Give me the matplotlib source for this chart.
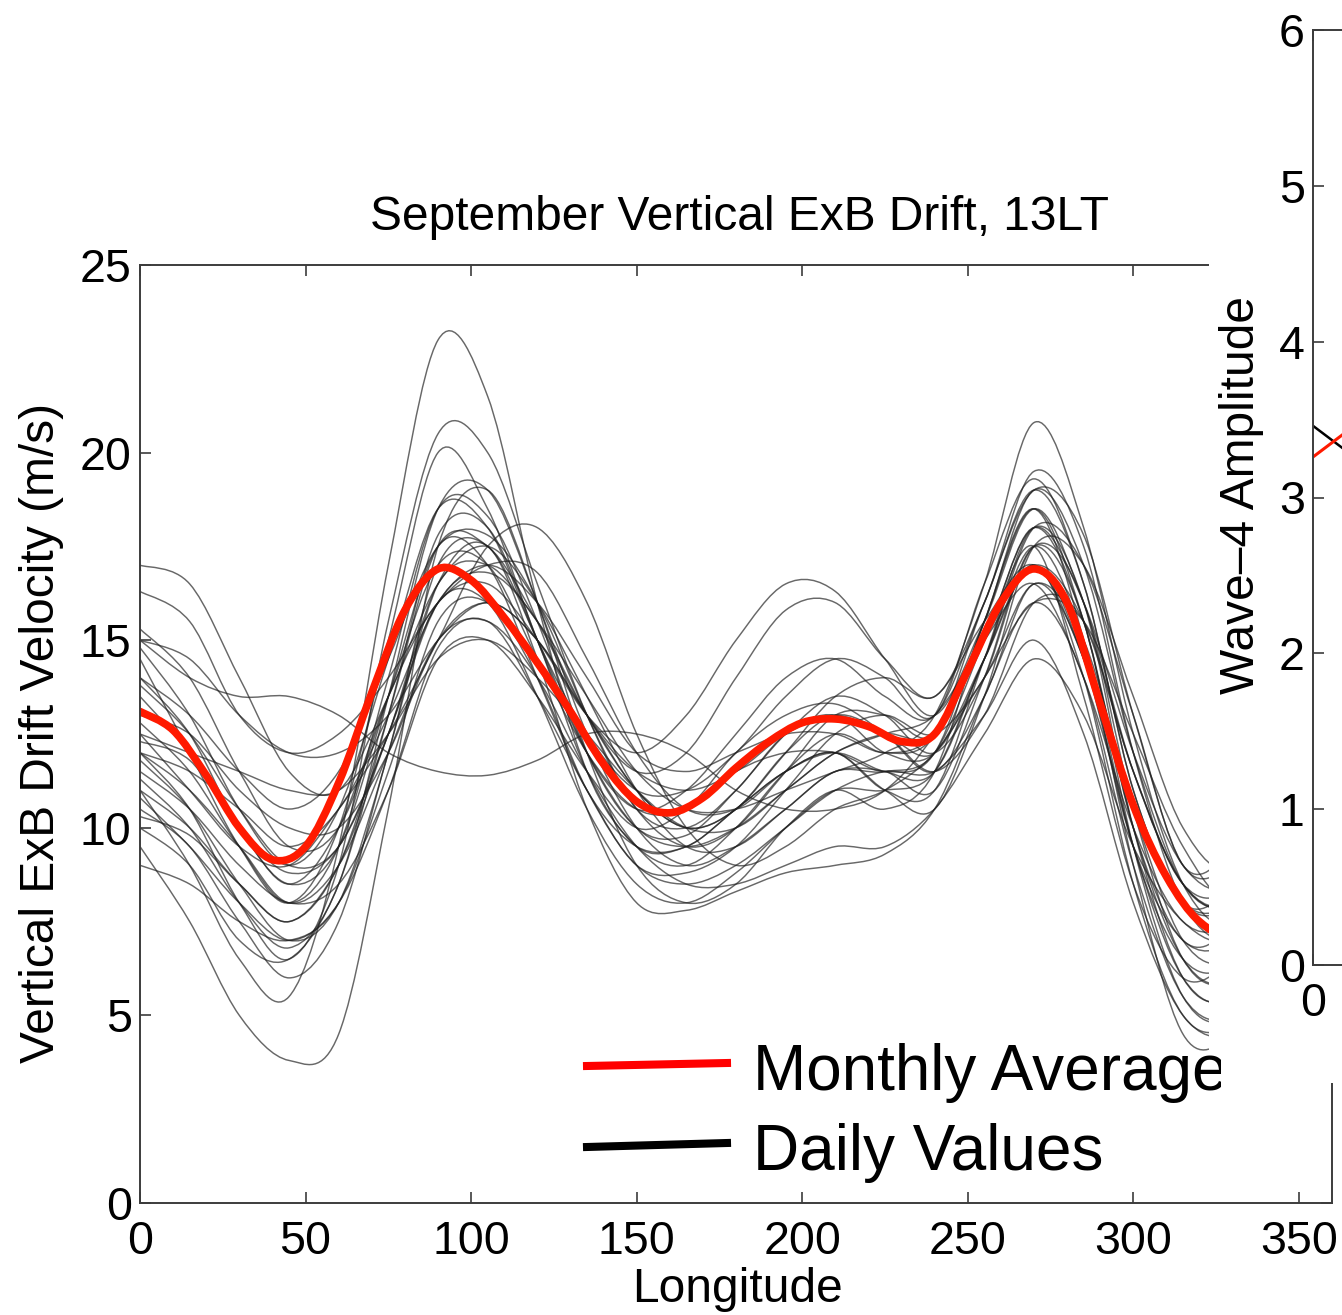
import matplotlib
matplotlib.use("Agg")
import numpy as np
import matplotlib.pyplot as plt
from matplotlib.lines import Line2D
from matplotlib.patches import Rectangle, PathPatch
from matplotlib.path import Path
from matplotlib.transforms import Bbox, TransformedBbox

plt.rcParams["font.family"] = ["Liberation Sans", "DejaVu Sans"]

# ---------------------------------------------------------------- data
# Longitude grid of the daily drift profiles (deg)
lon_daily = [0, 15, 30, 45, 60, 75, 90, 105, 120, 135, 150, 165, 180,
             195, 210, 225, 240, 255, 270, 285, 300, 315, 330, 345, 360]

# Daily vertical ExB drift profiles (m/s), one row per day
daily_drift = [
    [11.0, 9.0, 6.5, 5.5, 9.5, 17.0, 23.0, 21.5, 16.0, 11.5, 9.5, 9.0, 10.0, 11.5, 12.5, 12.0, 12.5, 15.0, 17.5, 13.5, 8.5, 6.0, 6.5, 8.0, 11.0],
    [9.5, 7.5, 5.0, 3.8, 4.5, 10.5, 17.5, 19.0, 16.0, 12.0, 9.0, 8.0, 8.5, 10.0, 11.0, 10.5, 11.5, 15.5, 18.5, 15.0, 9.0, 4.5, 4.5, 6.5, 9.5],
    [12.0, 10.5, 8.0, 6.5, 9.0, 15.5, 20.5, 20.0, 16.5, 13.0, 10.5, 10.0, 11.0, 12.5, 13.0, 12.0, 12.0, 14.5, 17.0, 14.5, 9.5, 7.0, 7.0, 9.0, 12.0],
    [14.5, 12.0, 9.5, 8.0, 10.0, 15.0, 20.0, 18.5, 15.0, 12.0, 10.5, 11.0, 12.5, 14.0, 14.5, 13.5, 13.0, 16.0, 19.0, 16.5, 11.0, 8.0, 8.0, 10.5, 14.5],
    [17.0, 16.5, 14.0, 11.5, 11.0, 13.5, 16.5, 17.5, 16.0, 13.5, 11.0, 9.5, 9.5, 10.5, 11.5, 11.5, 12.0, 15.0, 18.0, 16.0, 12.0, 9.0, 8.5, 11.0, 15.0],
    [16.3, 15.5, 13.0, 12.0, 12.5, 14.0, 16.0, 17.0, 16.8, 14.5, 12.0, 10.5, 10.5, 11.5, 12.0, 11.0, 10.5, 13.5, 17.5, 17.0, 13.5, 10.0, 9.0, 12.0, 16.0],
    [15.0, 14.0, 13.5, 13.5, 13.0, 12.0, 11.5, 11.4, 11.8, 12.5, 12.5, 12.0, 11.0, 10.5, 10.5, 11.0, 12.5, 15.0, 17.0, 15.5, 11.5, 8.5, 8.5, 11.5, 15.0],
    [12.5, 11.0, 9.5, 9.0, 10.5, 12.5, 15.0, 17.5, 18.0, 16.0, 12.5, 10.0, 9.0, 9.5, 10.5, 11.0, 12.0, 14.0, 16.0, 15.5, 12.5, 9.5, 8.0, 9.5, 12.5],
    [13.5, 12.0, 10.0, 8.5, 10.0, 13.5, 16.0, 16.5, 15.0, 13.0, 12.0, 13.0, 15.0, 16.5, 16.3, 14.5, 13.0, 15.5, 18.5, 16.0, 11.5, 8.5, 8.0, 10.5, 13.5],
    [11.0, 10.0, 8.5, 7.5, 9.0, 13.0, 17.5, 17.5, 15.5, 13.0, 11.5, 12.0, 14.0, 15.8, 16.0, 14.5, 13.5, 16.0, 19.5, 17.5, 12.0, 8.0, 7.0, 8.5, 11.0],
    [10.5, 9.5, 7.5, 6.0, 7.5, 12.0, 16.5, 17.5, 14.5, 10.5, 8.0, 7.8, 8.3, 8.8, 9.0, 9.3, 10.5, 13.5, 16.0, 14.0, 9.0, 5.5, 5.0, 7.0, 10.5],
    [12.0, 11.0, 9.5, 8.0, 9.0, 12.0, 15.0, 15.5, 14.0, 11.5, 9.5, 8.5, 8.5, 9.0, 9.5, 9.5, 10.5, 12.5, 14.5, 13.0, 9.5, 7.5, 7.0, 8.5, 12.0],
    [14.0, 13.0, 11.5, 10.5, 11.5, 14.5, 17.5, 17.8, 16.0, 13.0, 10.5, 9.5, 10.0, 11.5, 13.0, 13.0, 12.5, 15.5, 19.0, 17.0, 12.0, 8.5, 8.0, 10.0, 14.0],
    [12.8, 11.5, 9.5, 8.0, 9.5, 14.0, 18.5, 18.3, 15.5, 12.0, 10.0, 9.8, 11.0, 12.5, 13.5, 13.0, 12.0, 14.0, 17.5, 16.0, 10.5, 6.5, 6.0, 8.5, 12.8],
    [15.3, 14.0, 11.5, 9.5, 10.0, 13.5, 17.0, 17.0, 14.5, 12.0, 10.5, 10.5, 11.5, 12.0, 12.0, 11.5, 12.0, 15.5, 18.5, 15.5, 10.0, 7.0, 7.5, 10.5, 15.3],
    [11.5, 10.5, 9.0, 8.0, 8.5, 11.0, 14.5, 15.0, 13.5, 11.5, 10.0, 10.5, 12.0, 13.0, 13.3, 12.5, 11.5, 13.5, 16.5, 14.5, 9.5, 6.0, 5.5, 8.0, 11.5],
    [10.0, 9.0, 7.0, 6.5, 8.5, 13.0, 17.8, 18.0, 15.0, 11.5, 9.5, 9.5, 10.5, 11.5, 12.0, 11.0, 11.0, 14.5, 18.0, 16.0, 10.0, 6.0, 5.5, 7.5, 10.0],
    [13.0, 12.5, 11.0, 10.0, 10.0, 12.0, 15.0, 16.0, 15.0, 13.0, 11.0, 10.0, 10.5, 12.0, 13.5, 14.0, 13.5, 15.5, 17.0, 14.5, 10.5, 8.0, 8.0, 10.0, 13.0],
    [14.8, 13.0, 10.5, 9.0, 10.5, 14.5, 18.5, 18.0, 15.0, 12.5, 11.0, 11.0, 12.0, 13.5, 14.5, 14.0, 13.0, 16.5, 19.3, 16.5, 11.0, 8.0, 8.5, 11.0, 14.8],
    [9.0, 8.5, 7.5, 7.0, 8.0, 11.5, 15.5, 16.0, 14.0, 11.0, 9.0, 8.5, 9.0, 10.0, 11.0, 11.5, 11.5, 13.0, 15.0, 12.5, 8.0, 5.0, 4.5, 6.0, 9.0],
    [12.0, 11.5, 10.5, 9.5, 10.5, 13.0, 16.0, 17.0, 16.0, 14.0, 12.0, 11.5, 12.0, 12.5, 12.5, 12.0, 12.5, 16.0, 19.0, 17.8, 13.0, 9.0, 9.0, 10.5, 12.0],
    [10.8, 9.5, 8.0, 7.0, 8.0, 11.0, 14.8, 15.5, 13.5, 11.0, 9.0, 8.8, 9.5, 11.0, 12.5, 13.0, 12.5, 14.0, 16.5, 15.0, 10.5, 7.0, 6.5, 8.5, 10.8],
    [13.8, 12.5, 10.5, 9.0, 9.5, 12.5, 16.5, 17.0, 15.5, 13.5, 11.5, 10.5, 10.5, 11.0, 11.5, 12.0, 13.0, 16.5, 20.8, 18.0, 12.5, 8.5, 7.5, 10.0, 13.8],
    [12.3, 11.8, 10.0, 8.8, 9.5, 12.5, 16.0, 16.8, 15.5, 13.0, 11.0, 10.0, 10.5, 12.0, 13.0, 12.5, 11.5, 13.0, 16.0, 15.5, 11.5, 8.5, 8.0, 10.0, 12.3],
    [11.3, 10.0, 8.0, 6.8, 8.5, 13.5, 18.5, 19.0, 16.0, 12.5, 10.0, 9.0, 9.5, 10.5, 11.5, 11.5, 11.0, 14.0, 17.5, 15.5, 9.5, 5.5, 5.0, 7.5, 11.3],
    [15.0, 14.5, 13.0, 12.0, 12.0, 13.0, 15.0, 16.0, 15.0, 13.0, 11.5, 11.0, 11.5, 12.5, 13.0, 12.5, 12.0, 14.5, 18.0, 17.0, 13.0, 9.0, 9.5, 12.0, 15.0],
    [10.3, 9.8, 8.5, 7.5, 9.0, 12.5, 16.0, 16.0, 13.5, 10.5, 8.5, 8.0, 8.8, 10.0, 11.0, 11.0, 11.5, 14.5, 17.0, 14.0, 8.5, 5.0, 4.8, 7.0, 10.3],
    [14.0, 12.5, 10.0, 8.5, 9.5, 13.5, 17.5, 17.0, 14.0, 11.0, 9.5, 9.5, 10.5, 11.5, 12.0, 11.5, 11.5, 14.5, 17.5, 15.0, 9.5, 6.5, 6.5, 9.5, 14.0],
    [12.5, 12.0, 11.5, 11.0, 11.0, 12.5, 14.5, 15.0, 14.0, 12.5, 11.0, 10.0, 10.0, 11.0, 12.0, 12.5, 13.0, 15.0, 16.5, 14.0, 10.0, 7.5, 7.5, 9.5, 12.5],
    [11.8, 10.5, 8.5, 7.0, 8.0, 12.0, 17.0, 17.5, 15.0, 12.0, 10.0, 9.5, 10.0, 11.0, 12.0, 12.5, 12.5, 15.0, 18.0, 15.5, 10.0, 6.5, 6.0, 8.5, 11.8],
]

# Monthly mean profile (m/s) on a 10-deg grid
lon_mean = list(range(0, 361, 10))
monthly_mean = [13.1, 12.6, 11.4, 10.0, 9.15, 9.5, 11.2, 13.6, 15.8, 16.9,
                16.6, 15.6, 14.4, 13.1, 11.7, 10.7, 10.4, 10.8, 11.6, 12.3,
                12.8, 12.9, 12.7, 12.3, 12.5, 14.2, 16.0, 16.9, 16.0, 13.3,
                10.6, 8.7, 7.5, 7.2, 8.5, 10.5, 13.1]

x_ticks = [0, 50, 100, 150, 200, 250, 300, 350]
y_ticks = [0, 5, 10, 15, 20, 25]

# Wave-4 amplitude panel (day of month vs amplitude)
amp_days = [0, 1]
amp_daily = [3.46, 3.31]
amp_monthly = [3.26, 3.41]
amp_y_ticks = [0, 1, 2, 3, 4, 5, 6]
amp_x_ticks = [0]


def smooth_path(x, y):
    """Cubic Bezier path passing through every (x, y) sample."""
    p = np.column_stack([x, y]).astype(float)
    n = len(p)
    verts = [p[0]]
    codes = [Path.MOVETO]
    for i in range(n - 1):
        p0 = p[max(i - 1, 0)]
        p1 = p[i]
        p2 = p[i + 1]
        p3 = p[min(i + 2, n - 1)]
        c1 = p1 + (p2 - p0) / 6.0
        c2 = p2 - (p3 - p1) / 6.0
        verts += [c1, c2, p2]
        codes += [Path.CURVE4] * 3
    return Path(verts, codes)


def smooth_line(ax, x, y, **kw):
    patch = PathPatch(smooth_path(x, y), facecolor="none", **kw)
    ax.add_patch(patch)
    return patch


# ---------------------------------------------------------------- layout
W, H = 1342, 1315
fig = plt.figure(figsize=(W / 100, H / 100), dpi=100)


def fx(px):
    return px / W


def fy(py):
    return 1 - py / H


SPINE = "#3c3c3c"
TICK_FS = 33.5
LABEL_FS = 34.5

ax = fig.add_axes([fx(140), fy(1203), fx(1332) - fx(140), fy(265) - fy(1203)])
for row in daily_drift:
    smooth_line(ax, lon_daily, row, edgecolor="#202020", lw=1.05, alpha=0.68)
smooth_line(ax, lon_mean, monthly_mean, edgecolor="#ff1a00", lw=5.5,
            capstyle="round", joinstyle="round")
ax.set_xlim(0, 360)
ax.set_ylim(0, 25)
ax.set_xticks(x_ticks)
ax.set_yticks(y_ticks)
ax.tick_params(direction="in", length=8, width=1.2, color=SPINE,
               labelsize=TICK_FS, top=True, right=True)
ax.tick_params(axis="x", pad=12)
ax.tick_params(axis="y", pad=6)
for s in ax.spines.values():
    s.set_color(SPINE)
    s.set_linewidth(1.4)

fig.text(fx(740), fy(230), "September Vertical ExB Drift, 13LT",
         ha="center", va="baseline", fontsize=LABEL_FS)
fig.text(fx(737), fy(1302), "Longitude", ha="center", va="baseline",
         fontsize=LABEL_FS)
fig.text(fx(42), fy(733), "Vertical ExB Drift Velocity (m/s)", rotation=90,
         ha="center", va="center", fontsize=LABEL_FS)

# white panel background of the neighbouring amplitude plot
fig.add_artist(Rectangle((fx(1209), fy(1083)), 1.0, 1.0,
                         transform=fig.transFigure, facecolor="white",
                         edgecolor="none", zorder=1))

ax2 = fig.add_axes([fx(1313), fy(965), 930 / W, fy(30) - fy(965)])
ax2.set_zorder(2)
ax2.plot(amp_days, amp_daily, color="black", lw=1.8)
ax2.plot(amp_days, amp_monthly, color="#ff1a00", lw=2.2)
ax2.set_xlim(0, 30)
ax2.set_ylim(0, 6)
ax2.set_yticks(amp_y_ticks)
ax2.set_xticks(amp_x_ticks)
ax2.tick_params(direction="in", length=8, width=1.2, color=SPINE,
                labelsize=TICK_FS, top=True, right=True)
ax2.tick_params(axis="x", pad=12)
ax2.tick_params(axis="y", pad=6)
for s in ax2.spines.values():
    s.set_color(SPINE)
    s.set_linewidth(1.4)
fig.text(fx(1242), fy(495), "Wave\u20134 Amplitude", rotation=90,
         ha="center", va="center", fontsize=LABEL_FS, zorder=3)

# legend drawn on top, cut at its right edge
clip = TransformedBbox(Bbox([[0, 0], [fx(1221), 1]]), fig.transFigure)
fig.add_artist(Line2D([fx(587), fx(727)], [fy(1066), fy(1063)],
                      transform=fig.transFigure, color="#ff0000", lw=5.8,
                      zorder=4))
fig.add_artist(Line2D([fx(587), fx(727)], [fy(1147), fy(1143)],
                      transform=fig.transFigure, color="black", lw=5.8,
                      zorder=4))
for label, base in (("Monthly Average", 1090), ("Daily Values", 1170)):
    t = fig.text(fx(753), fy(base), label, ha="left", va="baseline",
                 fontsize=46, zorder=4)
    t.set_clip_box(clip)
    t.set_clip_on(True)

fig.savefig("out.png", dpi=100, facecolor="white")
